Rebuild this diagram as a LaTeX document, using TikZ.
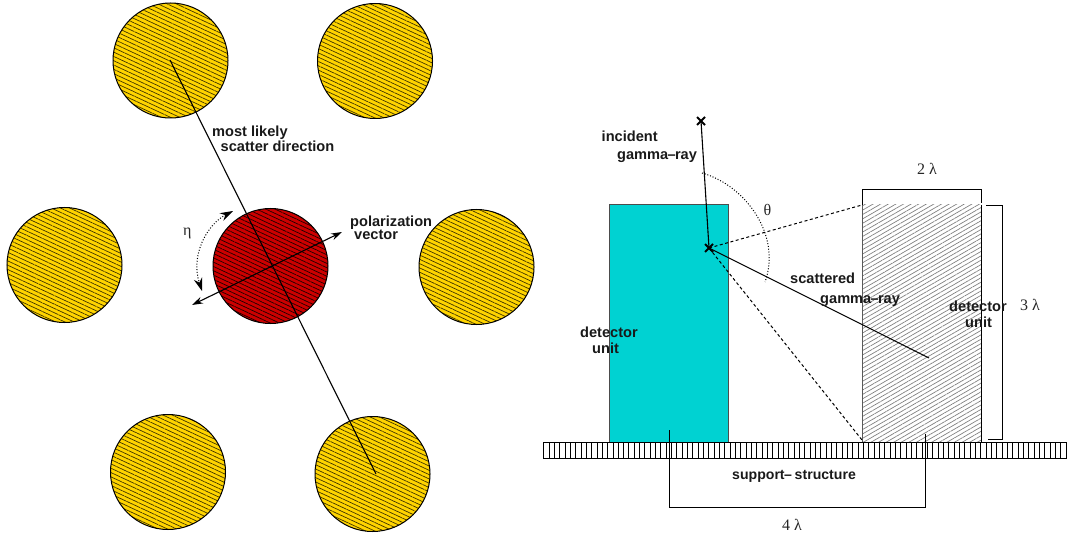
\documentclass[tikz,border=0pt]{standalone}
\usepackage{fontspec}
\setmainfont{Liberation Serif}
\setsansfont{Liberation Sans}
\usetikzlibrary{patterns.meta,arrows.meta}
\definecolor{gold}{HTML}{FFD400}
\definecolor{dred}{HTML}{CC0000}
\definecolor{teal2}{HTML}{00D2D2}
\newcommand{\dsh}{\hspace{-.7pt}–\hspace{-.7pt}}
\tikzset{
  disc/.style={circle,draw=black,line width=1pt,minimum size=115pt,inner sep=0pt,outer sep=0pt},
  golddisc/.style={disc,preaction={fill=gold},pattern={Lines[angle=-25,distance=3.9pt,line width=.7pt]},pattern color=black!75!gold},
  reddisc/.style={disc,preaction={fill=dred},pattern={Lines[angle=-25,distance=3.9pt,line width=.7pt]},pattern color=black!85!dred},
  lab/.style={font=\sffamily\bfseries\fontsize{14.6}{16}\selectfont,anchor=base west,inner sep=0pt,text=black!90},
  sym/.style={font=\fontsize{16}{18}\selectfont,anchor=base west,inner sep=0pt,text=black!85},
  ln/.style={line width=1.1pt,black},
  dashray/.style={line width=1pt,dash pattern=on 3pt off 2.5pt},
  dotarc/.style={line width=1pt,dash pattern=on 1pt off 1.8pt},
  xmark/.style={inner sep=0pt,minimum size=0pt},
  bigtips/.style={{Stealth[length=11pt,width=7pt]}-{Stealth[length=11pt,width=7pt]}},
  hugetips/.style={{Stealth[length=13pt,width=8.5pt]}-{Stealth[length=13pt,width=8.5pt]}},
}
\begin{document}
\begin{tikzpicture}[x=1pt,y=-1pt]
\useasboundingbox (0,0) rectangle (1067,537);
% discs
\node[golddisc] (tl) at (170.5,60.5) {};
\node[golddisc] (tr) at (375,61) {};
\node[golddisc] (ml) at (64.5,265) {};
\node[golddisc] (mr) at (476.5,267) {};
\node[golddisc] (bl) at (168,472) {};
\node[golddisc] (br) at (372.5,474) {};
\node[reddisc] (ctr) at (270.5,266) {};
\coordinate (sA) at (170,60);
\coordinate (sB) at (376,474);
\draw[ln] (sA) -- (sB);
\coordinate (pA) at (342,232);
\coordinate (pB) at (192,305);
\draw[ln,bigtips] (pB) -- (pA);
\coordinate (eA) at (233,211);
\coordinate (eB) at (202,291);
\draw[dotarc,hugetips] (eA) .. controls (208,224) and (190,254) .. (eB);
\node[sym] (eta) at (183,236) {η};
\node[lab] (l1) at (212,137) {most likely};
\node[lab] (l2) at (220.5,152) {scatter direction};
\node[lab] (l3) at (350,226) {polarization};
\node[lab] (l4) at (354,240) {vector};
% right
\node[draw=black!70,line width=1pt,fill=teal2,minimum width=119pt,minimum height=237pt,inner sep=0pt,outer sep=0pt] (det1) at (668.5,323.5) {};
\node[minimum width=119pt,minimum height=237pt,inner sep=0pt,outer sep=0pt,pattern={Lines[angle=30,distance=3.8pt,line width=.7pt]},pattern color=black!50] (det2) at (921.5,323.5) {};
\draw[black!65,line width=1pt] (det2.north west) -- (det2.south west);
\draw[black,line width=1pt] (det2.north east) -- (det2.south east);
\node[draw=black,line width=1pt,minimum width=526pt,minimum height=16.5pt,inner sep=0pt,outer sep=0pt,pattern={Lines[angle=90,distance=5.33pt,line width=.9pt]},pattern color=black] (bar) at (806,450.5) {};
% brackets
\coordinate (b2a) at (862.5,205); \coordinate (b2b) at (862.5,189.5); \coordinate (b2c) at (981.5,189.5); \coordinate (b2d) at (981.5,203);
\draw[ln,line width=1pt] (b2a) -- (b2b) -- (b2c) -- (b2d);
\coordinate (b3a) at (986,205.5); \coordinate (b3b) at (1002.5,205.5); \coordinate (b3c) at (1002.5,439.5); \coordinate (b3d) at (988,439.5);
\draw[ln,line width=1pt] (b3a) -- (b3b) -- (b3c) -- (b3d);
\coordinate (b4a) at (669.5,430); \coordinate (b4b) at (669.5,507.5); \coordinate (b4c) at (925.5,507.5); \coordinate (b4d) at (925.5,434);
\draw[ln,line width=1pt] (b4a) -- (b4b) -- (b4c) -- (b4d);
% rays
\node[xmark] (xt) at (701,121) {};
\node[xmark] (xc) at (709,248) {};
\coordinate (sc) at (929,358);
\coordinate (dU) at (862,205);
\coordinate (dL) at (862,440);
\draw[dashray] (xc) -- (dU);
\draw[dashray] (xc) -- (dL);
\draw[ln] (xt) -- (xc);
\draw[ln] (xc) -- (sc);
\foreach \m in {xt,xc}{
  \draw[line width=2pt] ([shift={(-4,-4)}]\m.center) -- ([shift={(4,4)}]\m.center);
  \draw[line width=2pt] ([shift={(-4,4)}]\m.center) -- ([shift={(4,-4)}]\m.center);
}
\coordinate (aA) at (702,173);
\coordinate (aB) at (765,282);
\draw[dotarc] (aA) .. controls (745,185) and (782,235) .. (aB);
\node[sym] (th) at (763.5,216) {θ};
\node[lab] (r1) at (601.5,141.5) {incident};
\node[lab] (r2) at (617,159.5) {gamma\dsh ray};
\node[lab] (r3) at (790,283) {scattered};
\node[lab] (r4) at (820,303) {gamma\dsh ray};
\node[lab] (r5) at (949,311) {detector};
\node[lab] (r6) at (965,327) {unit};
\node[lab] (r7) at (580,337) {detector};
\node[lab] (r8) at (592,353) {unit};
\node[lab,font=\sffamily\bfseries\fontsize{14.1}{16}\selectfont] (r9) at (732,479) {support\hspace{-.7pt}– \hspace{-1pt}structure};
\node[sym] (d2) at (917,175) {2 λ};
\node[sym] (d3) at (1020,310) {3 λ};
\node[sym] (d4) at (782,530) {4 λ};
\end{tikzpicture}
\end{document}
